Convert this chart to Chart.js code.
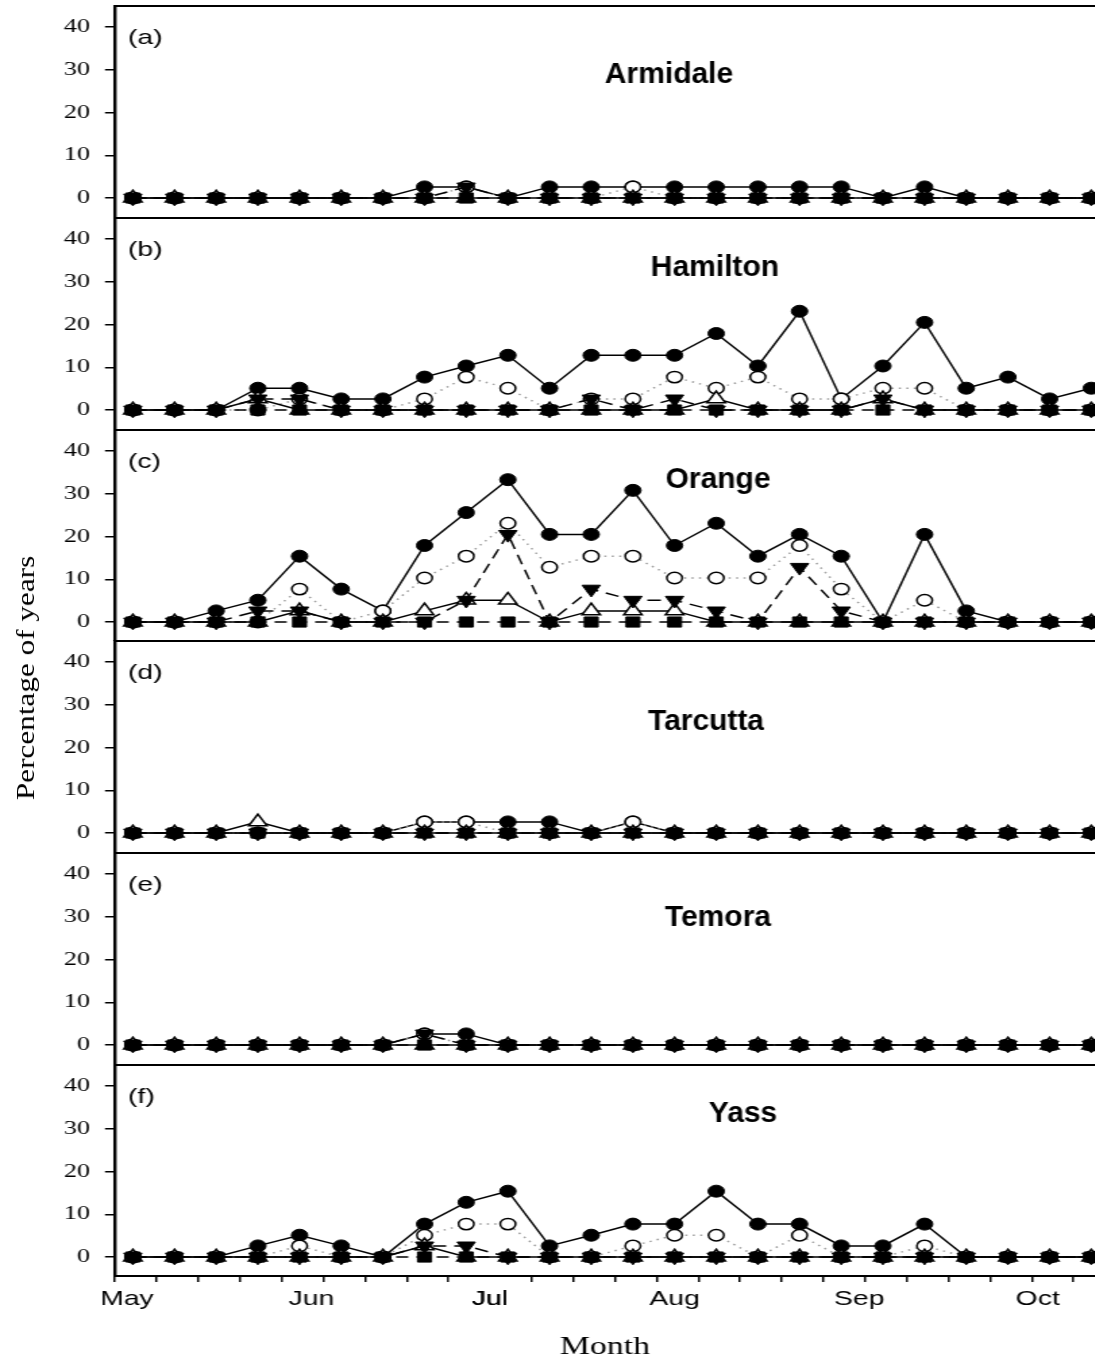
<!DOCTYPE html>
<html lang="en">
<head>
  <meta charset="UTF-8">
  <title>Percentage of years - weekly</title>
  <script src="https://cdn.jsdelivr.net/npm/chart.js"></script>
  <style>
    body { margin: 0; background: #fff; }
    #page { position: relative; width: 1095px; height: 1357px; overflow: hidden; background: #fff; }
    /* the original figure is stretched sideways, so the charts are drawn narrow and widened */
    #stretch { position: absolute; left: 0; top: 0; width: 811px; height: 1357px; transform: scaleX(1.35); transform-origin: 0 0; }
    #stretch canvas { position: absolute; left: 0; }
    #ytitle {
      position: absolute; left: 26px; top: 678px;
      transform: translate(-50%, -50%) rotate(-90deg) scaleX(1.2);
      font-family: "Liberation Serif", serif; font-size: 26px; white-space: nowrap; color: #000;
    }
  </style>
</head>
<body>
  <div id="page">
    <div id="stretch"></div>
    <div id="ytitle">Percentage of years</div>
  </div>

  <script>
    const S = 1.35;

    // x = days after 1 May
    const weekDays = [1, 8, 15, 22, 29, 36, 43, 50, 57, 64, 71, 78, 85, 92, 99, 106, 113, 120, 127, 134, 141, 148, 155, 162];
    const monthNames = ['May', 'Jun', 'Jul', 'Aug', 'Sep', 'Oct'];
    const monthDays = [0, 31, 61, 92, 123, 153];
    const yTicks = [0, 10, 20, 30, 40];
    const stations = ['Armidale', 'Hamilton', 'Orange', 'Tarcutta', 'Temora', 'Yass'];
    const letters = ['(a)', '(b)', '(c)', '(d)', '(e)', '(f)'];

    // fc = filled circle, oc = open circle, dt = filled down triangle, ut = open up triangle, sq = filled square
    const armidaleFc = [0, 0, 0, 0, 0, 0, 0, 2.6, 2.6, 0, 2.6, 2.6, 2.6, 2.6, 2.6, 2.6, 2.6, 2.6, 0, 2.6, 0, 0, 0, 0];
    const armidaleOc = [0, 0, 0, 0, 0, 0, 0, 0, 2.6, 0, 0, 0, 2.6, 0, 0, 0, 0, 0, 0, 0, 0, 0, 0, 0];
    const armidaleDt = [0, 0, 0, 0, 0, 0, 0, 0, 2.6, 0, 0, 0, 0, 0, 0, 0, 0, 0, 0, 0, 0, 0, 0, 0];
    const armidaleUt = [0, 0, 0, 0, 0, 0, 0, 0, 0, 0, 0, 0, 0, 0, 0, 0, 0, 0, 0, 0, 0, 0, 0, 0];
    const armidaleSq = [0, 0, 0, 0, 0, 0, 0, 0, 0, 0, 0, 0, 0, 0, 0, 0, 0, 0, 0, 0, 0, 0, 0, 0];

    const hamiltonFc = [0, 0, 0, 5.1, 5.1, 2.6, 2.6, 7.7, 10.3, 12.8, 5.1, 12.8, 12.8, 12.8, 17.9, 10.3, 23.1, 2.6, 10.3, 20.5, 5.1, 7.7, 2.6, 5.1];
    const hamiltonOc = [0, 0, 0, 0, 2.6, 0, 0, 2.6, 7.7, 5.1, 0, 2.6, 2.6, 7.7, 5.1, 7.7, 2.6, 2.6, 5.1, 5.1, 0, 0, 0, 0];
    const hamiltonDt = [0, 0, 0, 2.6, 2.6, 0, 0, 0, 0, 0, 0, 2.6, 0, 2.6, 0, 0, 0, 0, 2.6, 0, 0, 0, 0, 0];
    const hamiltonUt = [0, 0, 0, 2.6, 0, 0, 0, 0, 0, 0, 0, 0, 0, 0, 2.6, 0, 0, 0, 2.6, 0, 0, 0, 0, 0];
    const hamiltonSq = [0, 0, 0, 0, 0, 0, 0, 0, 0, 0, 0, 0, 0, 0, 0, 0, 0, 0, 0, 0, 0, 0, 0, 0];

    const orangeFc = [0, 0, 2.6, 5.1, 15.4, 7.7, 2.6, 17.9, 25.6, 33.3, 20.5, 20.5, 30.8, 17.9, 23.1, 15.4, 20.5, 15.4, 0, 20.5, 2.6, 0, 0, 0];
    const orangeOc = [0, 0, 0, 0, 7.7, 0, 2.6, 10.3, 15.4, 23.1, 12.8, 15.4, 15.4, 10.3, 10.3, 10.3, 17.9, 7.7, 0, 5.1, 0, 0, 0, 0];
    const orangeDt = [0, 0, 0, 2.6, 2.6, 0, 0, 0, 5.1, 20.5, 0, 7.7, 5.1, 5.1, 2.6, 0, 12.8, 2.6, 0, 0, 0, 0, 0, 0];
    const orangeUt = [0, 0, 0, 0, 2.6, 0, 0, 2.6, 5.1, 5.1, 0, 2.6, 2.6, 2.6, 0, 0, 0, 0, 0, 0, 0, 0, 0, 0];
    const orangeSq = [0, 0, 0, 0, 0, 0, 0, 0, 0, 0, 0, 0, 0, 0, 0, 0, 0, 0, 0, 0, 0, 0, 0, 0];

    const tarcuttaFc = [0, 0, 0, 0, 0, 0, 0, 2.6, 2.6, 2.6, 2.6, 0, 2.6, 0, 0, 0, 0, 0, 0, 0, 0, 0, 0, 0];
    const tarcuttaOc = [0, 0, 0, 0, 0, 0, 0, 2.6, 2.6, 0, 0, 0, 2.6, 0, 0, 0, 0, 0, 0, 0, 0, 0, 0, 0];
    const tarcuttaDt = [0, 0, 0, 0, 0, 0, 0, 0, 0, 0, 0, 0, 0, 0, 0, 0, 0, 0, 0, 0, 0, 0, 0, 0];
    const tarcuttaUt = [0, 0, 0, 2.6, 0, 0, 0, 0, 0, 0, 0, 0, 0, 0, 0, 0, 0, 0, 0, 0, 0, 0, 0, 0];
    const tarcuttaSq = [0, 0, 0, 0, 0, 0, 0, 0, 0, 0, 0, 0, 0, 0, 0, 0, 0, 0, 0, 0, 0, 0, 0, 0];

    const temoraFc = [0, 0, 0, 0, 0, 0, 0, 2.6, 2.6, 0, 0, 0, 0, 0, 0, 0, 0, 0, 0, 0, 0, 0, 0, 0];
    const temoraOc = [0, 0, 0, 0, 0, 0, 0, 2.6, 0, 0, 0, 0, 0, 0, 0, 0, 0, 0, 0, 0, 0, 0, 0, 0];
    const temoraDt = [0, 0, 0, 0, 0, 0, 0, 2.6, 0, 0, 0, 0, 0, 0, 0, 0, 0, 0, 0, 0, 0, 0, 0, 0];
    const temoraUt = [0, 0, 0, 0, 0, 0, 0, 0, 0, 0, 0, 0, 0, 0, 0, 0, 0, 0, 0, 0, 0, 0, 0, 0];
    const temoraSq = [0, 0, 0, 0, 0, 0, 0, 0, 0, 0, 0, 0, 0, 0, 0, 0, 0, 0, 0, 0, 0, 0, 0, 0];

    const yassFc = [0, 0, 0, 2.6, 5.1, 2.6, 0, 7.7, 12.8, 15.4, 2.6, 5.1, 7.7, 7.7, 15.4, 7.7, 7.7, 2.6, 2.6, 7.7, 0, 0, 0, 0];
    const yassOc = [0, 0, 0, 0, 2.6, 0, 0, 5.1, 7.7, 7.7, 0, 0, 2.6, 5.1, 5.1, 0, 5.1, 0, 0, 2.6, 0, 0, 0, 0];
    const yassDt = [0, 0, 0, 0, 0, 0, 0, 2.6, 2.6, 0, 0, 0, 0, 0, 0, 0, 0, 0, 0, 0, 0, 0, 0, 0];
    const yassUt = [0, 0, 0, 0, 0, 0, 0, 2.6, 0, 0, 0, 0, 0, 0, 0, 0, 0, 0, 0, 0, 0, 0, 0, 0];
    const yassSq = [0, 0, 0, 0, 0, 0, 0, 0, 0, 0, 0, 0, 0, 0, 0, 0, 0, 0, 0, 0, 0, 0, 0, 0];

    const stationSeries = [
      [armidaleFc, armidaleOc, armidaleDt, armidaleUt, armidaleSq],
      [hamiltonFc, hamiltonOc, hamiltonDt, hamiltonUt, hamiltonSq],
      [orangeFc, orangeOc, orangeDt, orangeUt, orangeSq],
      [tarcuttaFc, tarcuttaOc, tarcuttaDt, tarcuttaUt, tarcuttaSq],
      [temoraFc, temoraOc, temoraDt, temoraUt, temoraSq],
      [yassFc, yassOc, yassDt, yassUt, yassSq]
    ];

    // layout (screen pixels)
    const panelTops = [5, 217, 429, 640, 852, 1064];
    const nameX = [669, 715, 718, 706, 718, 743];
    const nameY = [70, 51, 51, 82, 66, 50];

    const tickDays = weekDays.map(d => d - 3);
    const xTicks = tickDays.concat(monthDays).sort((a, b) => a - b);

    Chart.defaults.font.family = '"Liberation Sans", Arial, sans-serif';
    Chart.defaults.color = '#000';

    const pts = arr => arr.map((v, i) => ({ x: weekDays[i], y: v }));

    function buildSets(s) {
      const [fc, oc, dt, ut, sq] = s;
      // first dataset is drawn on top
      return [
        { label: 'Filled squares', data: pts(sq), borderColor: '#000', borderWidth: 1.5, borderDash: [9, 6],
          pointStyle: 'rect', pointRadius: 7.2, pointBackgroundColor: '#000', pointBorderColor: '#000', pointBorderWidth: 1 },
        { label: 'Filled down triangles', data: pts(dt), borderColor: '#000', borderWidth: 1.5, borderDash: [10, 6],
          pointStyle: 'triangle', pointRotation: 180, pointRadius: 7.8, pointBackgroundColor: '#000', pointBorderColor: '#000', pointBorderWidth: 1 },
        { label: 'Open up triangles', data: pts(ut), borderColor: '#000', borderWidth: 1.5,
          pointStyle: 'triangle', pointRadius: 7.8, pointBackgroundColor: '#fff', pointBorderColor: '#000', pointBorderWidth: 1.5 },
        { label: 'Open circles', data: pts(oc), borderColor: '#9a9a9a', borderWidth: 1.5, borderDash: [1.5, 4],
          pointStyle: 'circle', pointRadius: 5.7, pointBackgroundColor: '#fff', pointBorderColor: '#000', pointBorderWidth: 1.5 },
        { label: 'Filled circles', data: pts(fc), borderColor: '#000', borderWidth: 1.5,
          pointStyle: 'circle', pointRadius: 6, pointBackgroundColor: '#000', pointBorderColor: '#000', pointBorderWidth: 1 }
      ];
    }

    // frame line on top of each panel, panel letter and station name
    const panelDeco = {
      id: 'panelDeco',
      afterDraw(chart, args, o) {
        const { ctx, chartArea: a } = chart;
        ctx.save();
        ctx.strokeStyle = '#000';
        ctx.lineWidth = 2;
        ctx.beginPath();
        ctx.moveTo(a.left, a.top + 1);
        ctx.lineTo(a.right, a.top + 1);
        ctx.stroke();
        ctx.fillStyle = '#000';
        ctx.textBaseline = 'middle';
        ctx.textAlign = 'left';
        ctx.font = '21px "Liberation Sans"';
        ctx.fillText(o.letter, a.left + 9.6, a.top + 33);
        // station names are not stretched in the original
        ctx.translate(o.nameX / S, a.top + o.nameY);
        ctx.scale(1 / S, 1);
        ctx.textAlign = 'center';
        ctx.font = 'bold 30px "Liberation Sans"';
        ctx.fillText(o.name, 0, 0);
        ctx.restore();
      }
    };

    const holder = document.getElementById('stretch');

    stations.forEach((name, k) => {
      const last = k === stations.length - 1;
      const cv = document.createElement('canvas');
      cv.width = 811;
      cv.height = last ? 293 : 212;
      cv.style.top = panelTops[k] + 'px';
      holder.appendChild(cv);

      new Chart(cv, {
        type: 'line',
        data: { datasets: buildSets(stationSeries[k]) },
        options: {
          responsive: false,
          animation: false,
          events: [],
          layout: { padding: 0, autoPadding: false },
          elements: { line: { tension: 0 } },
          plugins: {
            legend: { display: false },
            tooltip: { enabled: false },
            panelDeco: { letter: letters[k], name: name, nameX: nameX[k], nameY: nameY[k] }
          },
          scales: {
            x: {
              type: 'linear',
              display: last,
              min: -2,
              max: 162.6,
              afterBuildTicks: sc => { sc.ticks = xTicks.map(v => ({ value: v })); },
              afterFit: sc => {
                sc.height = last ? 81 : 0;
                sc.paddingLeft = 0;
                sc.paddingRight = 0;
              },
              ticks: {
                autoSkip: false, maxRotation: 0, minRotation: 0, padding: 5,
                font: { size: 21 },
                callback: v => { const m = monthDays.indexOf(v); return m >= 0 ? monthNames[m] : ''; }
              },
              grid: {
                drawOnChartArea: false, tickLength: 6, lineWidth: 1.5,
                color: c => (c.tick && monthDays.includes(c.tick.value)) ? 'rgba(0,0,0,0)' : '#000'
              },
              border: { display: true, color: '#000', width: 2 },
              title: {
                display: true, text: 'Month', padding: { top: 0, bottom: -3 },
                font: { family: '"Liberation Serif", serif', size: 25, lineHeight: 1 }
              }
            },
            y: {
              type: 'linear',
              min: -4.44,
              max: 45.15,
              afterBuildTicks: sc => { sc.ticks = yTicks.map(v => ({ value: v })); },
              afterFit: sc => { sc.width = 85.2; sc.paddingTop = 0; sc.paddingBottom = 0; },
              ticks: { padding: 11, font: { family: '"Liberation Serif", serif', size: 19.5 } },
              grid: { drawOnChartArea: false, tickLength: 7.4, lineWidth: 1.5, color: '#000' },
              border: { display: true, color: '#000', width: 2.4 }
            }
          }
        },
        plugins: [panelDeco]
      });
    });
  </script>
</body>
</html>
